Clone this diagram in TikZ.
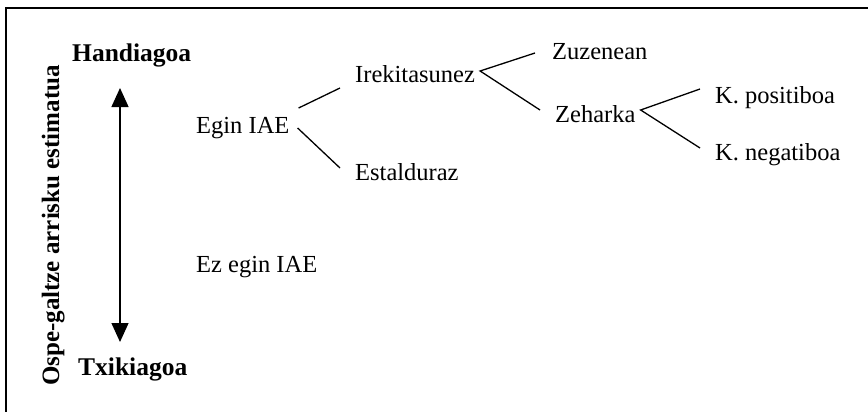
\documentclass[tikz,border=0pt]{standalone}
\usepackage{fontspec}
\setmainfont{Liberation Serif}
\usetikzlibrary{arrows.meta}
\begin{document}
\begin{tikzpicture}[x=1pt,y=-1pt,
  lbl/.style={inner sep=0pt,anchor=base west,font=\fontsize{24.5}{28}\selectfont},
  blbl/.style={inner sep=0pt,anchor=base west,font=\fontsize{25.5}{29}\selectfont\bfseries},
  branch/.style={line width=1.3pt},
  frame/.style={line width=2pt}]
\useasboundingbox (0,0) rectangle (868,412);
\draw[frame] (6,413) -- (6,8.5) -- (869,8.5);
% axis labels
\node[inner sep=0pt,anchor=base,rotate=90,font=\fontsize{25}{29}\selectfont\bfseries] (axis) at (59,225.5) {Ospe-galtze arrisku estimatua};
\node[blbl] (hand) at (72,62) {Handiagoa};
\node[blbl] (txik) at (78,375) {Txikiagoa};
\coordinate (atop) at (120,88);
\coordinate (abot) at (120,342);
\draw[line width=1.3pt,{Triangle[length=19pt,width=17pt]}-{Triangle[length=19pt,width=17pt]}] (atop) -- (abot);
% tree
\node[lbl] (egin) at (196,133) {Egin IAE};
\node[lbl] (ez) at (196,272) {Ez egin IAE};
\node[lbl] (irek) at (355,83) {Irekitasunez};
\node[lbl] (estal) at (355,180) {Estalduraz};
\node[lbl] (zuz) at (552,60) {Zuzenean};
\node[lbl] (zeh) at (555,122) {Zeharka};
\node[lbl] (kpos) at (715,103) {K. positiboa};
\node[lbl] (kneg) at (715,160) {K. negatiboa};
\draw[branch] ([shift={(9,-25)}]egin.base east) -- ([shift={(-15,5)}]irek.base west);
\draw[branch] ([shift={(8,-5)}]egin.base east) -- ([shift={(-15,-12)}]estal.base west);
\draw[branch] ([shift={(-17,-7)}]zuz.base west) -- ([shift={(5,-12)}]irek.base east) -- ([shift={(-15,-12)}]zeh.base west);
\draw[branch] ([shift={(-15,-14)}]kpos.base west) -- ([shift={(5,-12)}]zeh.base east) -- ([shift={(-15,-12)}]kneg.base west);
\end{tikzpicture}
\end{document}
